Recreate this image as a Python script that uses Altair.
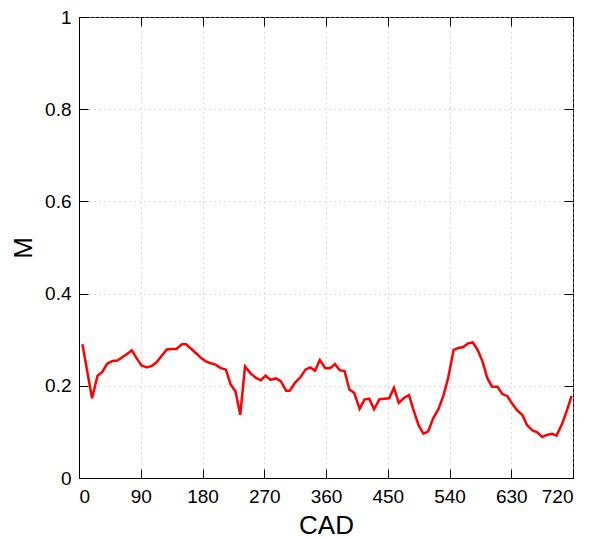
import altair as alt
import pandas as pd

cad = [5, 19, 27, 34, 41, 49, 56, 63, 70, 77, 84, 91, 99, 106, 113, 120, 128, 135, 142, 150,
       156, 163, 171, 178, 185, 192, 199, 206, 214, 221, 228, 235, 242,
       250, 258, 265, 272, 279, 287, 294, 302, 307, 315, 323, 330, 337, 344, 351, 359, 366,
       373, 380, 387, 394, 401, 409, 416, 423, 430, 438, 445, 452, 459, 466, 474, 481,
       487, 495, 502, 509, 516, 524, 531, 538, 546, 553, 560, 567, 574, 581, 588, 595,
       602, 610, 617, 624, 631, 639, 646, 653, 661, 668, 675, 683, 690, 696, 704, 711, 718]
m = [0.290, 0.173, 0.222, 0.230, 0.248, 0.254, 0.255, 0.262, 0.269, 0.277, 0.260, 0.244, 0.240,
     0.243, 0.251, 0.264, 0.279, 0.280, 0.280, 0.290, 0.290, 0.281, 0.270, 0.260, 0.253, 0.249,
     0.246, 0.239, 0.235, 0.203, 0.188, 0.137, 0.242,
     0.227, 0.217, 0.212, 0.222, 0.213, 0.216, 0.210, 0.189, 0.189, 0.207, 0.219, 0.235, 0.240,
     0.233, 0.256, 0.238, 0.238, 0.247, 0.234, 0.232, 0.192, 0.185, 0.150, 0.170, 0.172, 0.149,
     0.171, 0.172, 0.173, 0.196, 0.163, 0.174, 0.180,
     0.150, 0.114, 0.096, 0.101, 0.129, 0.150, 0.178, 0.217, 0.278, 0.282, 0.284, 0.292, 0.294,
     0.278, 0.253, 0.217, 0.198, 0.198, 0.182, 0.178, 0.162, 0.146, 0.137, 0.115, 0.103, 0.099,
     0.089, 0.094, 0.096, 0.092, 0.117, 0.146, 0.178]

x_ticks = [0, 90, 180, 270, 360, 450, 540, 630, 720]
y_ticks = [0, 0.2, 0.4, 0.6, 0.8, 1]

df = pd.DataFrame({"CAD": cad, "M": m})

FONT = "Liberation Sans"
xs = alt.Scale(domain=[0, 720], nice=False)
ys = alt.Scale(domain=[0, 1], nice=False)

main = alt.Chart(df).mark_line(color="#ff0000", strokeWidth=2.5).encode(
    x=alt.X("CAD:Q", scale=xs, title="CAD",
            axis=alt.Axis(orient="bottom", values=x_ticks, ticks=False, tickSize=0,
                          labelPadding=9, titlePadding=6, grid=True, domain=True)),
    y=alt.Y("M:Q", scale=ys, title="M",
            axis=alt.Axis(orient="left", values=y_ticks, ticks=False, tickSize=0, format="~g",
                          labelPadding=8, titlePadding=8, grid=True, domain=True)),
)

ticks_bl = alt.Chart(df).mark_line(strokeOpacity=0).encode(
    x=alt.X("CAD:Q", scale=xs, title=None,
            axis=alt.Axis(orient="bottom", values=x_ticks, offset=-9, tickSize=9, labels=False,
                          domain=False, grid=False)),
    y=alt.Y("M:Q", scale=ys, title=None,
            axis=alt.Axis(orient="left", values=y_ticks, offset=-9, tickSize=9, labels=False,
                          domain=False, grid=False)),
)

ticks_tr = alt.Chart(df).mark_line(strokeOpacity=0).encode(
    x=alt.X("CAD:Q", scale=xs, title=None,
            axis=alt.Axis(orient="top", values=x_ticks, offset=-9, tickSize=9, labels=False,
                          domain=False, grid=False)),
    y=alt.Y("M:Q", scale=ys, title=None,
            axis=alt.Axis(orient="right", values=y_ticks, offset=-9, tickSize=9, labels=False,
                          domain=False, grid=False)),
)

chart = alt.layer(main, ticks_bl, ticks_tr).resolve_axis(
    x="independent", y="independent"
).properties(
    width=494, height=461,
    autosize=alt.AutoSizeParams(type="none"),
    padding={"left": 71, "top": 9, "right": 13, "bottom": 70},
).configure_view(
    stroke="black", strokeWidth=1
).configure_axis(
    labelFont=FONT, titleFont=FONT, labelFontSize=19, titleFontSize=26,
    labelColor="black", titleColor="black", titleFontWeight="normal",
    domainColor="black", tickColor="black", domainWidth=1, tickWidth=1,
    gridColor="#b8b8b8", gridDash=[1, 4], gridWidth=1,
)

chart.save("out.html", embed_options={"renderer": "svg", "actions": False})
